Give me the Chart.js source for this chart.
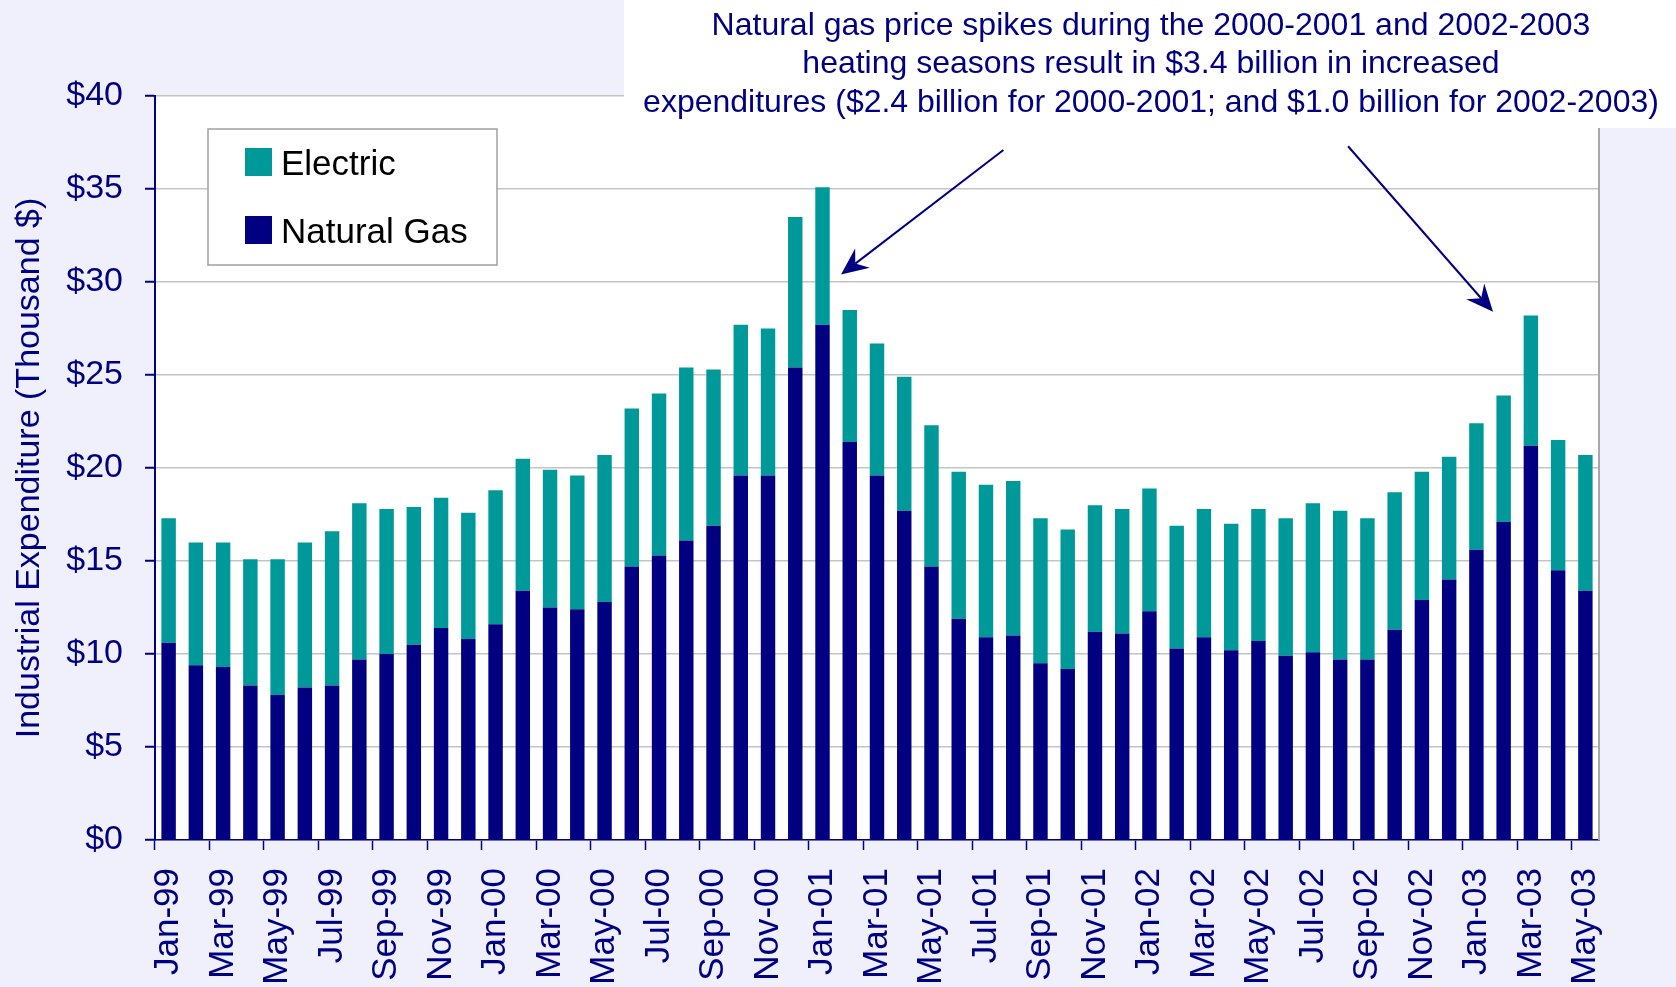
<!DOCTYPE html>
<html>
<head>
<meta charset="utf-8">
<script src="https://cdn.jsdelivr.net/npm/chart.js@4/dist/chart.umd.min.js"></script>
<style>
  html, body { margin: 0; padding: 0; background: #f0f0fc; }
  #wrap { width: 1676px; height: 987px; }
</style>
</head>
<body>
<div id="wrap"><canvas id="expChart" width="1676" height="987"></canvas></div>
<script>
// month labels (every other one is shown on the axis)
const months = [
  "Jan-99","Feb-99","Mar-99","Apr-99","May-99","Jun-99","Jul-99","Aug-99","Sep-99","Oct-99","Nov-99","Dec-99",
  "Jan-00","Feb-00","Mar-00","Apr-00","May-00","Jun-00","Jul-00","Aug-00","Sep-00","Oct-00","Nov-00","Dec-00",
  "Jan-01","Feb-01","Mar-01","Apr-01","May-01","Jun-01","Jul-01","Aug-01","Sep-01","Oct-01","Nov-01","Dec-01",
  "Jan-02","Feb-02","Mar-02","Apr-02","May-02","Jun-02","Jul-02","Aug-02","Sep-02","Oct-02","Nov-02","Dec-02",
  "Jan-03","Feb-03","Mar-03","Apr-03","May-03"
];

// thousand $
const naturalGas = [
  10.6, 9.4, 9.3, 8.3, 7.8, 8.2, 8.3, 9.7, 10.0, 10.5, 11.4, 10.8,
  11.6, 13.4, 12.5, 12.4, 12.8, 14.7, 15.3, 16.1, 16.9, 19.6, 19.6, 25.4,
  27.7, 21.4, 19.6, 17.7, 14.7, 11.9, 10.9, 11.0, 9.5, 9.2, 11.2, 11.1,
  12.3, 10.3, 10.9, 10.2, 10.7, 9.9, 10.1, 9.7, 9.7, 11.3, 12.9, 14.0,
  15.6, 17.1, 21.2, 14.5, 13.4
];

const electric = [
  6.7, 6.6, 6.7, 6.8, 7.3, 7.8, 8.3, 8.4, 7.8, 7.4, 7.0, 6.8,
  7.2, 7.1, 7.4, 7.2, 7.9, 8.5, 8.7, 9.3, 8.4, 8.1, 7.9, 8.1,
  7.4, 7.1, 7.1, 7.2, 7.6, 7.9, 8.2, 8.3, 7.8, 7.5, 6.8, 6.7,
  6.6, 6.6, 6.9, 6.8, 7.1, 7.4, 8.0, 8.0, 7.6, 7.4, 6.9, 6.6,
  6.8, 6.8, 7.0, 7.0, 7.3
];

const yTicks = [0, 5, 10, 15, 20, 25, 30, 35, 40];

const noteLines = [
  "Natural gas price spikes during the 2000-2001 and 2002-2003",
  "heating seasons result in $3.4 billion in increased",
  "expenditures ($2.4 billion for 2000-2001; and $1.0 billion for 2002-2003)"
];

const NAVY = "#000080";
const TEAL = "#009999";
const FONT = "'Liberation Sans', Arial, sans-serif";

// background: lavender page, white plot area
const backdrop = {
  id: "backdrop",
  beforeDraw(chart) {
    const { ctx, chartArea: a } = chart;
    ctx.save();
    ctx.fillStyle = "#f0f0fc";
    ctx.fillRect(0, 0, chart.width, chart.height);
    ctx.fillStyle = "#ffffff";
    ctx.fillRect(a.left, a.top, a.right - a.left, a.bottom - a.top);
    ctx.restore();
  },
  afterDatasetsDraw(chart) {
    const { ctx, chartArea: a } = chart;
    // right border of the plot
    ctx.save();
    ctx.strokeStyle = "#a8a8a8";
    ctx.lineWidth = 2;
    ctx.beginPath();
    ctx.moveTo(a.right, a.top);
    ctx.lineTo(a.right, a.bottom);
    ctx.stroke();
    ctx.restore();
  }
};

// legend box drawn inside the plot
const boxLegend = {
  id: "boxLegend",
  afterDraw(chart) {
    const ctx = chart.ctx;
    ctx.save();
    ctx.fillStyle = "#ffffff";
    ctx.fillRect(208, 129, 289, 136);
    ctx.strokeStyle = "#a0a0a0";
    ctx.lineWidth = 1.5;
    ctx.strokeRect(208, 129, 289, 136);
    const items = [chart.data.datasets[1], chart.data.datasets[0]];
    ctx.font = "35px " + FONT;
    ctx.textBaseline = "alphabetic";
    items.forEach((ds, i) => {
      const y = 148 + i * 68;
      ctx.fillStyle = ds.backgroundColor;
      ctx.fillRect(245, y, 27, 28);
      ctx.fillStyle = "#000000";
      ctx.fillText(ds.label, 281, y + 27);
    });
    ctx.restore();
  }
};

// note box, text and arrows (arrow ends given in data units)
const arrows = [
  { from: [30.64, 37.1], to: [24.68, 30.4] },
  { from: [43.29, 37.3], to: [48.61, 28.4] }
];

const callout = {
  id: "callout",
  afterDraw(chart) {
    const { ctx, scales } = chart;
    ctx.save();
    ctx.fillStyle = "#ffffff";
    ctx.fillRect(624, 0, chart.width - 624, 128);

    ctx.fillStyle = NAVY;
    ctx.font = "32px " + FONT;
    ctx.textAlign = "center";
    ctx.textBaseline = "middle";
    noteLines.forEach((t, i) => ctx.fillText(t, 1151, 26 + i * 38.5));

    ctx.strokeStyle = NAVY;
    ctx.lineWidth = 2;
    arrows.forEach(a => {
      const x1 = scales.x.getPixelForValue(a.from[0]);
      const y1 = scales.y.getPixelForValue(a.from[1]);
      const x2 = scales.x.getPixelForValue(a.to[0]);
      const y2 = scales.y.getPixelForValue(a.to[1]);
      const len = Math.hypot(x1 - x2, y1 - y2);
      const ux = (x1 - x2) / len, uy = (y1 - y2) / len;
      const px = -uy, py = ux;
      ctx.beginPath();
      ctx.moveTo(x1, y1);
      ctx.lineTo(x2 + ux * 18, y2 + uy * 18);
      ctx.stroke();
      ctx.beginPath();
      ctx.moveTo(x2, y2);
      ctx.lineTo(x2 + ux * 27 + px * 12, y2 + uy * 27 + py * 12);
      ctx.lineTo(x2 + ux * 18, y2 + uy * 18);
      ctx.lineTo(x2 + ux * 27 - px * 12, y2 + uy * 27 - py * 12);
      ctx.closePath();
      ctx.fill();
    });
    ctx.restore();
  }
};

new Chart(document.getElementById("expChart"), {
  type: "bar",
  data: {
    labels: months,
    datasets: [
      {
        label: "Natural Gas",
        data: naturalGas,
        backgroundColor: NAVY,
        borderWidth: 0,
        barPercentage: 0.53,
        categoryPercentage: 1.0
      },
      {
        label: "Electric",
        data: electric,
        backgroundColor: TEAL,
        borderWidth: 0,
        barPercentage: 0.53,
        categoryPercentage: 1.0
      }
    ]
  },
  options: {
    responsive: false,
    animation: false,
    devicePixelRatio: 1,
    layout: { padding: { top: 96, right: 77, left: 0, bottom: 0 } },
    plugins: {
      legend: { display: false },
      tooltip: { enabled: false }
    },
    scales: {
      x: {
        stacked: true,
        afterFit: s => { s.height = 147; },
        border: { color: NAVY, width: 1.5 },
        grid: {
          offset: true,
          drawOnChartArea: false,
          tickLength: 10,
          tickWidth: 1.5,
          tickColor: c => (c.index % 2 === 0 ? NAVY : "rgba(0,0,0,0)")
        },
        ticks: {
          autoSkip: false,
          minRotation: 90,
          maxRotation: 90,
          padding: 18,
          color: NAVY,
          font: { family: FONT, size: 35 },
          callback: (v, i) => (i % 2 === 0 ? months[i] : "")
        }
      },
      y: {
        stacked: true,
        min: 0,
        max: 40,
        afterFit: s => { s.width = 155; },
        afterBuildTicks: s => { s.ticks = yTicks.map(v => ({ value: v })); },
        border: { color: NAVY, width: 2 },
        grid: {
          color: "#c4c4c4",
          lineWidth: 1.5,
          tickLength: 10,
          tickWidth: 2,
          tickColor: NAVY
        },
        ticks: {
          padding: 22,
          color: NAVY,
          font: { family: FONT, size: 34 },
          callback: v => "$" + v
        },
        title: {
          display: true,
          text: "Industrial Expenditure (Thousand $)",
          color: NAVY,
          font: { family: FONT, size: 34 },
          padding: { top: 9, bottom: 0 }
        }
      }
    }
  },
  plugins: [backdrop, boxLegend, callout]
});
</script>
</body>
</html>
